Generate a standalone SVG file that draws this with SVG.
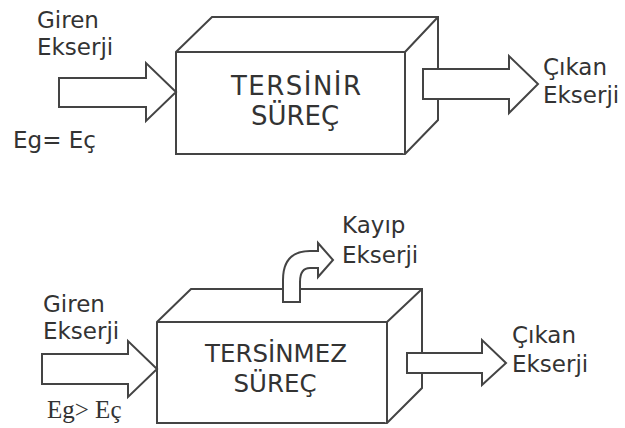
<svg xmlns="http://www.w3.org/2000/svg" width="625" height="428" viewBox="0 0 625 428">
<style>
.box{fill:#fff;stroke:#444;stroke-width:2;stroke-linejoin:miter}
.arr{fill:#fff;stroke:#444;stroke-width:2;stroke-linejoin:miter}
.lbl{font-family:"DejaVu Sans",Verdana,sans-serif;font-size:23px;fill:#333}
.ttl{font-family:"DejaVu Sans",Verdana,sans-serif;font-size:24.5px;fill:#333;text-anchor:middle}
.ttl2{font-family:"DejaVu Sans",Verdana,sans-serif;font-size:26px;fill:#333;text-anchor:middle}
.ser{font-family:"Liberation Serif","Times New Roman",serif;font-size:25px;fill:#333}
</style>
<rect width="625" height="428" fill="#fff"/>
<g id="box1">
<path class="box" d="M176,52 L212,17 H438 V120 L405,154 H176 Z"/>
<path class="box" fill="none" d="M176,52 H405 V154 M405,52 L438,17"/>
<text class="ttl2" x="296" y="95" textLength="130" lengthAdjust="spacing">TERSİNİR</text>
<text class="ttl2" x="295" y="125">SÜREÇ</text>
</g>
<g id="box2">
<path class="box" d="M157,322 L191,289 H422 V388 L387,423 H157 Z"/>
<path class="box" fill="none" d="M157,322 H387 V423 M387,322 L422,289"/>
<text class="ttl" x="276" y="362">TERSİNMEZ</text>
<text class="ttl" x="275" y="392">SÜREÇ</text>
</g>
<g id="connectors">
<path class="arr" d="M59,78 H146 V63 L176,92 L146,121 V107 H59 Z"/>
<path class="arr" d="M423,69 H509 V56 L538,84 L509,113 V99 H423 Z"/>
<path class="arr" d="M42,354 H128 V341 L157,369 L128,397 V384 H42 Z"/>
<path class="arr" d="M407,353 H482 V340 L506,363 L482,385 V373 H407 Z"/>
<path class="arr" d="M283,302 V280 Q283,251 310,251 H318 V243 L333,260 L318,277 V268 H310 Q300,268 300,282 V302 Z"/>
</g>
<g id="labels">
<text class="lbl" x="37" y="28">Giren</text>
<text class="lbl" x="37" y="55">Ekserji</text>
<text class="lbl" x="13" y="148">Eg= Eç</text>
<text class="lbl" x="543" y="75">Çıkan</text>
<text class="lbl" x="543" y="103">Ekserji</text>
<text class="lbl" x="43" y="312">Giren</text>
<text class="lbl" x="43" y="339">Ekserji</text>
<text class="ser" x="47" y="418">Eg&gt; Eç</text>
<text class="lbl" x="342" y="233">Kayıp</text>
<text class="lbl" x="342" y="263">Ekserji</text>
<text class="lbl" x="512" y="343">Çıkan</text>
<text class="lbl" x="512" y="372">Ekserji</text>
</g>
</svg>
